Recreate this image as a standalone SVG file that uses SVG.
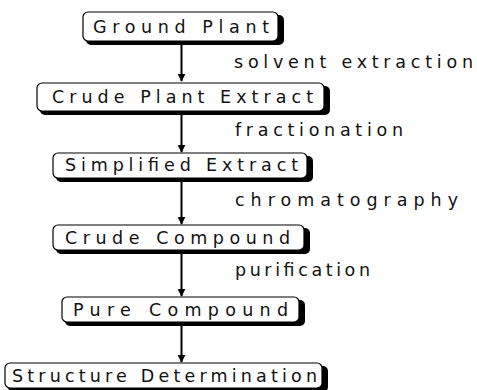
<svg xmlns="http://www.w3.org/2000/svg" width="477" height="390" viewBox="0 0 477 390">
<style>
.sh{fill:#000}
.bx{fill:#fff;stroke:#000;stroke-width:1.2}
.t{font-family:"DejaVu Sans","Liberation Sans",sans-serif;font-size:17.5px;fill:#111}
.c{stroke:#000;stroke-width:2;fill:none}
</style>
<defs>
<marker id="ah" viewBox="0 0 10 10" refX="9" refY="5" markerWidth="4" markerHeight="4" orient="auto" markerUnits="strokeWidth">
<path d="M0,0 L10,5 L0,10 z" fill="#000"/>
</marker>
</defs>
<rect width="477" height="390" fill="#fff"/>
<g id="connectors">
<line class="c" x1="181.5" y1="44" x2="181.5" y2="81" marker-end="url(#ah)"/>
<line class="c" x1="181.5" y1="114" x2="181.5" y2="152" marker-end="url(#ah)"/>
<line class="c" x1="181.5" y1="180" x2="181.5" y2="224" marker-end="url(#ah)"/>
<line class="c" x1="181.5" y1="252" x2="181.5" y2="296" marker-end="url(#ah)"/>
<line class="c" x1="181.5" y1="325" x2="181.5" y2="362" marker-end="url(#ah)"/>
<text class="t" x="234" y="68" textLength="239" lengthAdjust="spacing">solvent extraction</text>
<text class="t" x="235" y="136" textLength="168" lengthAdjust="spacing">fractionation</text>
<text class="t" x="235" y="206" textLength="223" lengthAdjust="spacing">chromatography</text>
<text class="t" x="235" y="276" textLength="135" lengthAdjust="spacing">purification</text>
</g>
<g id="n1">
<rect class="sh" x="86" y="15" width="198" height="30" rx="5"/>
<rect class="bx" x="83" y="12" width="195" height="29" rx="5"/>
<text class="t" x="93" y="33" textLength="176" lengthAdjust="spacing">Ground Plant</text>
</g>
<g id="n2">
<rect class="sh" x="40" y="86" width="290" height="29" rx="5"/>
<rect class="bx" x="37" y="83" width="287" height="28" rx="5"/>
<text class="t" x="52" y="103" textLength="261" lengthAdjust="spacing">Crude Plant Extract</text>
</g>
<g id="n3">
<rect class="sh" x="56" y="156" width="257" height="26" rx="5"/>
<rect class="bx" x="53" y="153" width="254" height="25" rx="5"/>
<text class="t" x="65" y="171" textLength="233" lengthAdjust="spacing">Simplified Extract</text>
</g>
<g id="n4">
<rect class="sh" x="56" y="228" width="254" height="26" rx="5"/>
<rect class="bx" x="53" y="225" width="251" height="25" rx="5"/>
<text class="t" x="65" y="244" textLength="225" lengthAdjust="spacing">Crude Compound</text>
</g>
<g id="n5">
<rect class="sh" x="65" y="300" width="240" height="26" rx="5"/>
<rect class="bx" x="62" y="297" width="237" height="25" rx="5"/>
<text class="t" x="73" y="316" textLength="215" lengthAdjust="spacing">Pure Compound</text>
</g>
<g id="n6">
<rect class="sh" x="8" y="366" width="320" height="26" rx="5"/>
<rect class="bx" x="5" y="363" width="317" height="25" rx="5"/>
<text class="t" x="12" y="382" textLength="305" lengthAdjust="spacing">Structure Determination</text>
</g>
</svg>
